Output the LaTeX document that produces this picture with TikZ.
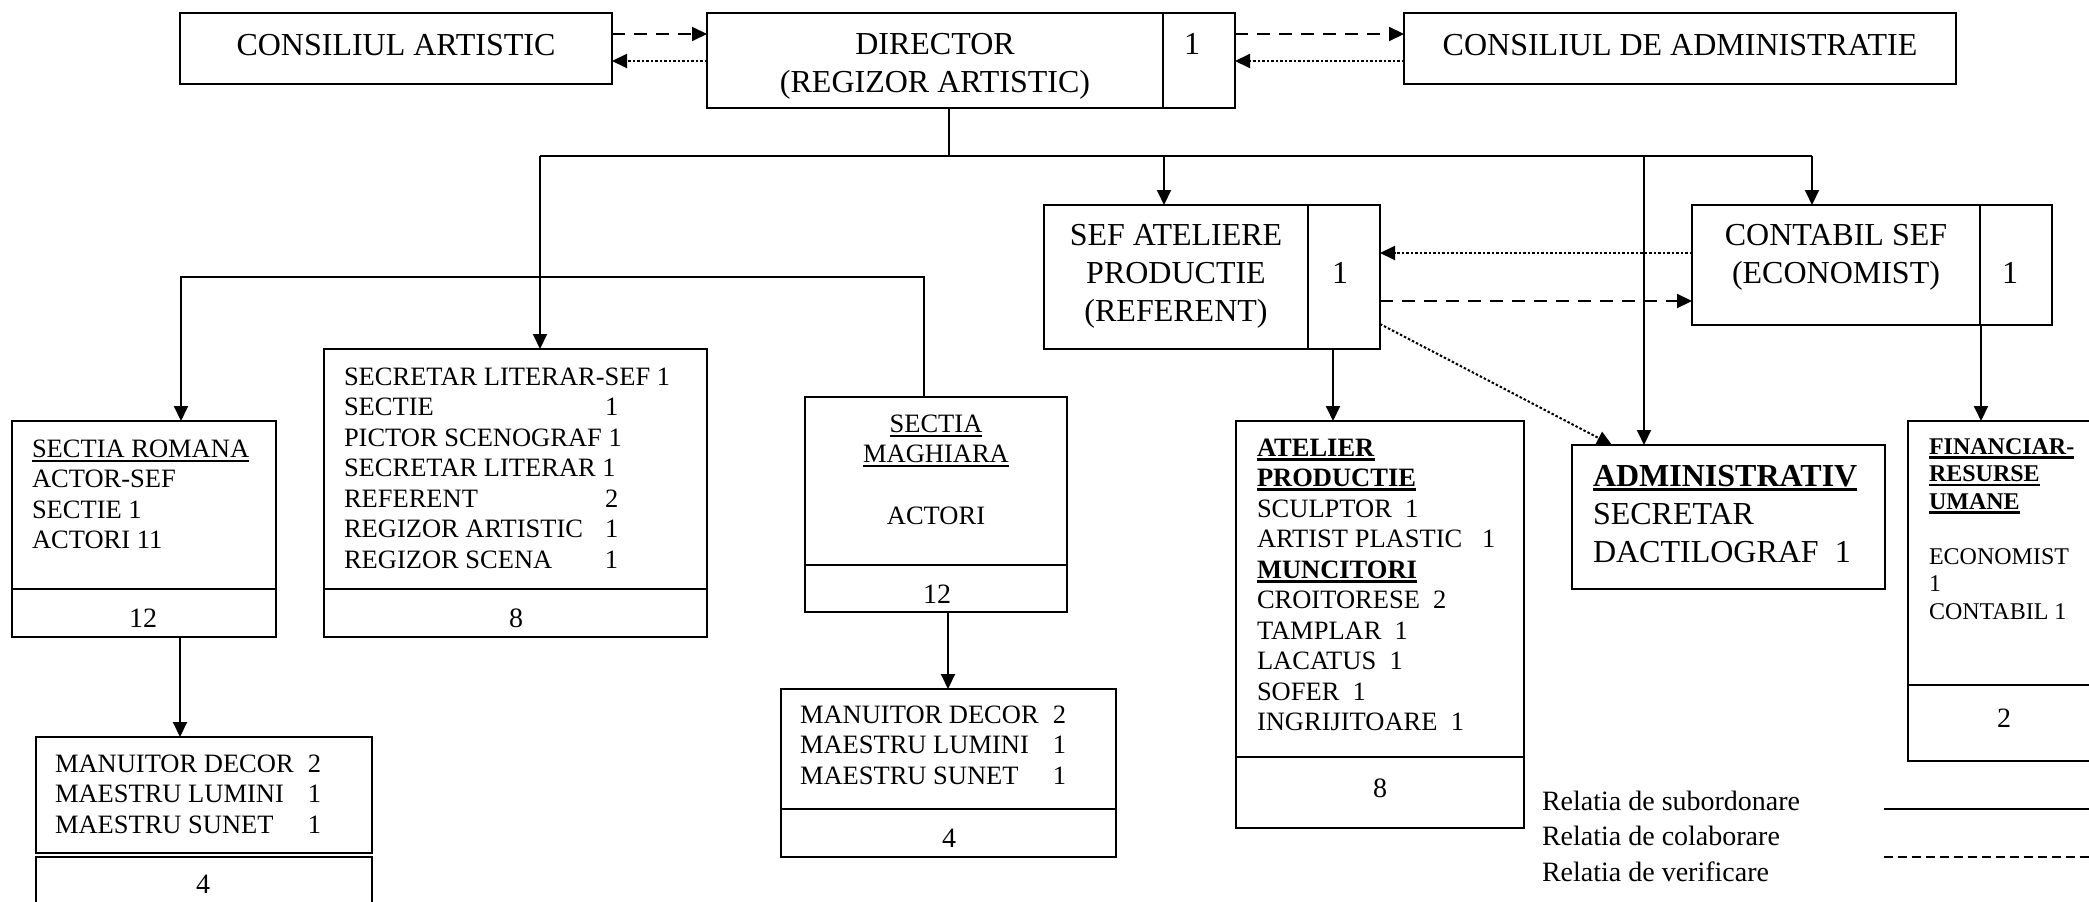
\documentclass[tikz,border=0pt]{standalone}
\usepackage{fontspec}
\setmainfont{Liberation Serif}
\usetikzlibrary{arrows.meta}
\newcommand\myul[2][2]{\leavevmode\setbox0\hbox{#2}\rlap{\rule[-4.5pt]{\wd0}{#1pt}}\box0}
\newcommand\fbig{\fontsize{32}{38}\selectfont}
\newcommand\fmid{\fontsize{26.5}{30.5}\selectfont}
\newcommand\fnum{\fontsize{28}{32}\selectfont}
\newcommand\ffin{\fontsize{24}{27.5}\selectfont}
\newcommand\fleg{\fontsize{28}{35.5}\selectfont}
\begin{document}
\begin{tikzpicture}[x=1pt,y=-1pt,
  box/.style={draw,line width=2pt,rectangle,inner sep=0pt,outer sep=0pt},
  txt/.style={inner sep=0pt,outer sep=0pt},
  conn/.style={line width=2pt},
  arr/.style={conn,-{Triangle[length=15pt,width=14pt]}},
  colab/.style={dash pattern=on 13pt off 9pt},
  verif/.style={dash pattern=on 2.5pt off 2pt},
]
\useasboundingbox (0,0) rectangle (2089,902);
\fill[white] (0,0) rectangle (2089,902);

% ---------- boxes ----------
\node[box,minimum width=432pt,minimum height=71pt] (ca) at (396,48.5) {};
\node[box,minimum width=528pt,minimum height=95pt] (dir) at (971,60.5) {};
\node[box,minimum width=552pt,minimum height=71pt] (cda) at (1680,48.5) {};
\node[box,minimum width=336pt,minimum height=144pt] (sef) at (1212,277) {};
\node[box,minimum width=360pt,minimum height=120pt] (cont) at (1872,265) {};
\node[box,minimum width=264pt,minimum height=216pt] (rom) at (144,529) {};
\node[box,minimum width=383pt,minimum height=288pt] (sec) at (515.5,493) {};
\node[box,minimum width=262pt,minimum height=215pt] (mag) at (936,504.5) {};
\node[box,minimum width=288pt,minimum height=407pt] (atl) at (1380,624.5) {};
\node[box,minimum width=313pt,minimum height=144pt] (adm) at (1728.5,517) {};
\node[box,minimum width=192pt,minimum height=340pt] (fin) at (2004,591) {};
\node[box,minimum width=336pt,minimum height=116pt] (man1) at (204,795) {};
\node[box,minimum width=336pt,minimum height=58pt] (man1b) at (204,886) {};
\node[box,minimum width=335pt,minimum height=168pt] (man2) at (948.5,773) {};

% ---------- dividers ----------
\coordinate (dirdiv) at (1163,0);
\coordinate (sefdiv) at (1308,0);
\coordinate (contdiv) at (1980,0);
\coordinate (romdiv) at (0,589);
\coordinate (magdiv) at (0,565);
\coordinate (atldiv) at (0,757);
\coordinate (findiv) at (0,685);
\coordinate (man2div) at (0,809);
\draw[conn] (dir.north -| dirdiv) -- (dir.south -| dirdiv);
\draw[conn] (sef.north -| sefdiv) -- (sef.south -| sefdiv);
\draw[conn] (cont.north -| contdiv) -- (cont.south -| contdiv);
\draw[conn] (rom.west |- romdiv) -- (rom.east |- romdiv);
\draw[conn] (sec.west |- romdiv) -- (sec.east |- romdiv);
\draw[conn] (mag.west |- magdiv) -- (mag.east |- magdiv);
\draw[conn] (atl.west |- atldiv) -- (atl.east |- atldiv);
\draw[conn] (fin.west |- findiv) -- (fin.east |- findiv);
\draw[conn] (man2.west |- man2div) -- (man2.east |- man2div);

% ---------- texts ----------
\node[txt,anchor=base] (cat) at (396,55) {\fbig CONSILIUL ARTISTIC};
\node[txt,anchor=base] (dirt) at (935,54) {\fbig\begin{tabular}[t]{@{}c@{}}DIRECTOR\\(REGIZOR ARTISTIC)\end{tabular}};
\node[txt,anchor=base] (dirn) at (1192,54) {\fbig 1};
\node[txt,anchor=base] (cdat) at (1680,55) {\fbig CONSILIUL DE ADMINISTRATIE};
\node[txt,anchor=base] (seft) at (1176,245) {\fbig\begin{tabular}[t]{@{}c@{}}SEF ATELIERE\\PRODUCTIE\\(REFERENT)\end{tabular}};
\node[txt,anchor=base] (sefn) at (1340,283) {\fbig 1};
\node[txt,anchor=base] (contt) at (1836,245) {\fbig\begin{tabular}[t]{@{}c@{}}CONTABIL SEF\\(ECONOMIST)\end{tabular}};
\node[txt,anchor=base] (contn) at (2010,283) {\fbig 1};

\node[txt,anchor=base west] (romt) at (32,457) {\fmid\begin{tabular}[t]{@{}l@{}}\myul{SECTIA ROMANA}\\ACTOR-SEF\\SECTIE 1\\ACTORI 11\end{tabular}};
\node[txt,anchor=base] (romn) at (143,627) {\fnum 12};

\node[txt,anchor=base west] (sect) at (344,385) {\fmid\begin{tabular}[t]{@{}l@{}}
SECRETAR LITERAR-SEF 1\\
\makebox[261pt][l]{SECTIE}1\\
PICTOR SCENOGRAF 1\\
SECRETAR LITERAR 1\\
\makebox[261pt][l]{REFERENT}2\\
\makebox[261pt][l]{REGIZOR ARTISTIC}1\\
\makebox[261pt][l]{REGIZOR SCENA}1\end{tabular}};
\node[txt,anchor=base] (secn) at (516,627) {\fnum 8};

\node[txt,anchor=base] (magt) at (936,432) {\fmid\begin{tabular}[t]{@{}c@{}}\myul{SECTIA}\\\myul{MAGHIARA}\\[31pt]ACTORI\end{tabular}};
\node[txt,anchor=base] (magn) at (937,603) {\fnum 12};

\node[txt,anchor=base west] (atlt) at (1257,456) {\fmid\begin{tabular}[t]{@{}l@{}}
\myul[2.8]{\textbf{ATELIER}}\\
\myul[2.8]{\textbf{PRODUCTIE}}\\
SCULPTOR\ \ 1\\
ARTIST PLASTIC\ \ \ 1\\
\myul[2.8]{\textbf{MUNCITORI}}\\
CROITORESE\ \ 2\\
TAMPLAR\ \ 1\\
LACATUS\ \ 1\\
SOFER\ \ 1\\
INGRIJITOARE\ \ 1\end{tabular}};
\node[txt,anchor=base] (atln) at (1380,797) {\fnum 8};

\node[txt,anchor=base west] (admt) at (1593,486) {\fbig\begin{tabular}[t]{@{}l@{}}\myul[3]{\textbf{ADMINISTRATIV}}\\SECRETAR\\DACTILOGRAF\ \ 1\end{tabular}};

\node[txt,anchor=base west] (fint) at (1929,454) {\ffin\begin{tabular}[t]{@{}l@{}}
\myul[2.5]{\textbf{FINANCIAR-}}\\
\myul[2.5]{\textbf{RESURSE}}\\
\myul[2.5]{\textbf{UMANE}}\\
\\
ECONOMIST\\
1\\
CONTABIL 1\end{tabular}};
\node[txt,anchor=base] (finn) at (2004,727) {\fnum 2};

\node[txt,anchor=base west] (man1t) at (55,772) {\fmid\begin{tabular}[t]{@{}l@{}}
\makebox[253pt][l]{MANUITOR DECOR}2\\
\makebox[253pt][l]{MAESTRU LUMINI}1\\
\makebox[253pt][l]{MAESTRU SUNET}1\end{tabular}};
\node[txt,anchor=base] (man1n) at (203,893) {\fnum 4};

\node[txt,anchor=base west] (man2t) at (800,723) {\fmid\begin{tabular}[t]{@{}l@{}}
\makebox[253pt][l]{MANUITOR DECOR}2\\
\makebox[253pt][l]{MAESTRU LUMINI}1\\
\makebox[253pt][l]{MAESTRU SUNET}1\end{tabular}};
\node[txt,anchor=base] (man2n) at (949,847) {\fnum 4};

% ---------- top relations ----------
\coordinate (tA) at (0,34);
\coordinate (tB) at (0,61);
\draw[arr,colab] (ca.east |- tA) -- (dir.west |- tA);
\draw[arr,verif] (dir.west |- tB) -- (ca.east |- tB);
\draw[arr,colab] (dir.east |- tA) -- (cda.west |- tA);
\draw[arr,verif] (cda.west |- tB) -- (dir.east |- tB);

% ---------- subordination tree ----------
\coordinate (stem) at (949,156);
\coordinate (bA) at (540,156);
\coordinate (bB) at (1164,156);
\coordinate (bC) at (1644,156);
\coordinate (bD) at (1812,156);
\draw[conn] (dir.south -| stem) -- (stem);
\draw[conn] (bA) -- (bD);
\draw[arr] (bA) -- (sec.north -| bA);
\draw[arr] (bB) -- (sef.north -| bB);
\draw[arr] (bC) -- (adm.north -| bC);
\draw[arr] (bD) -- (cont.north -| bD);

\coordinate (cA) at (181,277);
\coordinate (cB) at (924,277);
\draw[arr] (mag.north -| cB) -- (cB) -- (cA) -- (rom.north -| cA);

\coordinate (x180) at (180,0);
\coordinate (x948) at (948,0);
\coordinate (x1333) at (1333,0);
\coordinate (x1981) at (1981,0);
\draw[arr] (rom.south -| x180) -- (man1.north -| x180);
\draw[arr] (mag.south -| x948) -- (man2.north -| x948);
\draw[arr] (sef.south -| x1333) -- (atl.north -| x1333);
\draw[arr] (cont.south -| x1981) -- (fin.north -| x1981);

% ---------- sef / contabil relations ----------
\coordinate (h1) at (0,253);
\coordinate (h2) at (0,301);
\coordinate (dgy) at (0,324);
\coordinate (dgx) at (1612,0);
\draw[arr,verif] (cont.west |- h1) -- (sef.east |- h1);
\draw[arr,colab] (sef.east |- h2) -- (cont.west |- h2);
\draw[arr,verif] (sef.east |- dgy) -- (adm.north -| dgx);

% ---------- legend ----------
\node[txt,anchor=base west] (leg) at (1542,810) {\fleg\begin{tabular}[t]{@{}l@{}}Relatia de subordonare\\Relatia de colaborare\\Relatia de verificare\end{tabular}};
\coordinate (lg1a) at (1884,809);
\coordinate (lg1b) at (2095,809);
\coordinate (lg2a) at (1884,857);
\coordinate (lg2b) at (2095,857);
\draw[conn] (lg1a) -- (lg1b);
\draw[conn,dash pattern=on 8.5pt off 5.5pt] (lg2a) -- (lg2b);
\end{tikzpicture}
\end{document}
